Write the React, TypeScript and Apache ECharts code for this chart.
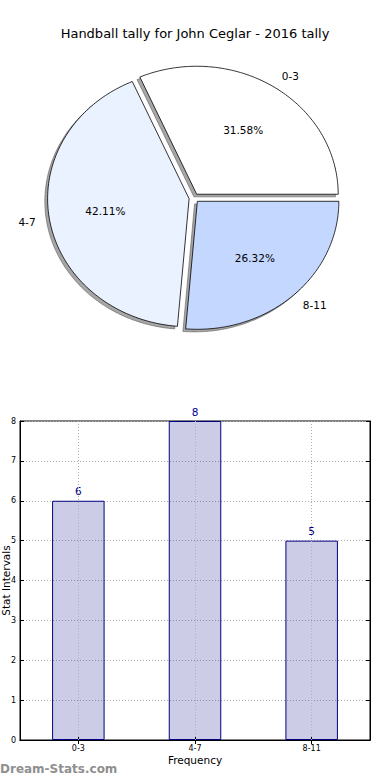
import React, { useEffect, useRef } from "react";
import * as echarts from "echarts";

const titleText = "Handball tally for John Ceglar - 2016 tally";
const pieLabels = ["0-3", "4-7", "8-11"];
const pieValues = [6, 8, 5];
const pieColors = ["#ffffff", "#eaf1ff", "#c4d8ff"];
const barCategories = ["0-3", "4-7", "8-11"];
const barValues = [6, 8, 5];
const yMin = 0;
const yMax = 8;
const yStep = 1;

const FONT = "DejaVu Sans";
const PIE_CX = 194;
const PIE_CY = 198;
const RX = 141.5;
const RY = 128;
const EXPLODE = 0.035;

const total = pieValues.reduce((a, b) => a + b, 0);
const startFracs = pieValues.map((_, i) =>
  pieValues.slice(0, i).reduce((a, b) => a + b, 0) / total
);

function wedgeGeom(i: number, value: number) {
  const a1 = startFracs[i] * Math.PI * 2;
  const a2 = a1 + (value / total) * Math.PI * 2;
  const mid = (a1 + a2) / 2;
  const ex = PIE_CX + EXPLODE * RX * Math.cos(mid);
  const ey = PIE_CY - EXPLODE * RY * Math.sin(mid);
  const pts: number[][] = [[ex, ey]];
  const steps = 120;
  for (let k = 0; k <= steps; k++) {
    const t = a1 + ((a2 - a1) * k) / steps;
    pts.push([ex + RX * Math.cos(t), ey - RY * Math.sin(t)]);
  }
  return { pts, mid, ex, ey };
}

export default function App() {
  const ref = useRef<HTMLDivElement>(null);
  useEffect(() => {
    if (!ref.current) return;
    const chart = echarts.init(ref.current, undefined, { renderer: "svg" });
    const pieData = pieValues.map((v, i) => [v, i]);
    const option: any = {
      animation: false,
      backgroundColor: "#ffffff",
      textStyle: { fontFamily: FONT },
      title: {
        text: titleText,
        left: "center",
        top: 22,
        textStyle: { fontFamily: FONT, fontSize: 13, fontWeight: "normal", color: "#000" },
      },
      grid: {
        left: 20,
        right: 20,
        top: 421,
        bottom: 40,
        containLabel: false,
        outerBoundsMode: "none",
        show: true,
        borderColor: "#000",
        borderWidth: 1,
        backgroundColor: "transparent",
      },
      xAxis: [
        {
          type: "category",
          data: barCategories,
          boundaryGap: true,
          position: "bottom",
          axisLine: { show: true, lineStyle: { color: "#000", width: 1 } },
          axisTick: { show: true, inside: true, alignWithLabel: true, length: 4, lineStyle: { color: "#000" } },
          axisLabel: { fontSize: 8, color: "#000", margin: 4, fontFamily: FONT },
          splitLine: { show: false },
          name: "Frequency",
          nameLocation: "middle",
          nameGap: 14,
          nameMoveOverlap: false,
          nameTextStyle: { fontSize: 10.5, color: "#000", fontFamily: FONT },
        },
        {
          type: "category",
          data: barCategories,
          boundaryGap: true,
          position: "top",
          axisLine: { show: true, lineStyle: { color: "#000", width: 1 } },
          axisTick: { show: true, inside: true, alignWithLabel: true, length: 4, lineStyle: { color: "#000" } },
          axisLabel: { show: false },
          splitLine: { show: false },
        },
      ],
      yAxis: [
        {
          type: "value",
          min: yMin,
          max: yMax,
          interval: yStep,
          position: "left",
          axisLine: { show: true, lineStyle: { color: "#000", width: 1 } },
          axisTick: { show: true, inside: true, length: 4, lineStyle: { color: "#000" } },
          axisLabel: { fontSize: 8, color: "#000", margin: 4, fontFamily: FONT },
          splitLine: { show: true, lineStyle: { type: [1, 2], color: "#b0b0b0", width: 1 } },
          name: "Stat Intervals",
          nameLocation: "middle",
          nameGap: 9,
          nameMoveOverlap: false,
          nameTextStyle: { fontSize: 10.5, color: "#000", fontFamily: FONT },
        },
        {
          type: "value",
          min: yMin,
          max: yMax,
          interval: yStep,
          position: "right",
          axisLine: { show: true, lineStyle: { color: "#000", width: 1 } },
          axisTick: { show: true, inside: true, length: 4, lineStyle: { color: "#000" } },
          axisLabel: { show: false },
          splitLine: { show: false },
        },
      ],
      series: [
        {
          type: "bar",
          xAxisIndex: 0,
          yAxisIndex: 0,
          data: barValues,
          barWidth: "45%",
          itemStyle: { color: "rgba(0,0,128,0.2)", borderColor: "#000080", borderWidth: 1 },
          label: {
            show: true,
            position: "top",
            distance: 4,
            color: "#00008b",
            fontSize: 10.5,
            fontFamily: FONT,
          },
          markLine: {
            silent: true,
            symbol: ["none", "none"],
            label: { show: false },
            lineStyle: { type: [1, 2], color: "#b0b0b0", width: 1 },
            data: barCategories.map((c) => ({ xAxis: c })),
          },
        },
        {
          type: "custom",
          coordinateSystem: "none",
          z: 1,
          silent: true,
          data: pieData,
          renderItem: (params: any, api: any) => {
            const i = params.dataIndex;
            const g = wedgeGeom(i, api.value(0));
            return {
              type: "polygon",
              x: -2.8,
              y: 2.6,
              shape: { points: g.pts },
              style: { fill: "rgba(77,77,77,0.5)", stroke: "rgba(77,77,77,0.5)", lineWidth: 1 },
            };
          },
        },
        {
          type: "custom",
          coordinateSystem: "none",
          z: 2,
          silent: true,
          data: pieData,
          renderItem: (params: any, api: any) => {
            const i = params.dataIndex;
            const v = api.value(0);
            const g = wedgeGeom(i, v);
            const c = Math.cos(g.mid);
            const s = Math.sin(g.mid);
            const lx = g.ex + 1.1 * RX * c;
            const ly = g.ey - 1.1 * RY * s;
            const px = g.ex + 0.6 * RX * c;
            const py = g.ey - 0.6 * RY * s;
            return {
              type: "group",
              children: [
                {
                  type: "polygon",
                  shape: { points: g.pts },
                  style: { fill: pieColors[i], stroke: "#000", lineWidth: 0.8 },
                },
                {
                  type: "text",
                  x: lx,
                  y: ly,
                  style: {
                    text: pieLabels[i],
                    fill: "#000",
                    fontSize: 10.5,
                    fontFamily: FONT,
                    align: c >= 0 ? "left" : "right",
                    verticalAlign: "middle",
                  },
                },
                {
                  type: "text",
                  x: px,
                  y: py,
                  style: {
                    text: ((v / total) * 100).toFixed(2) + "%",
                    fill: "#000",
                    fontSize: 10.5,
                    fontFamily: FONT,
                    align: "center",
                    verticalAlign: "middle",
                  },
                },
              ],
            };
          },
        },
      ],
      graphic: [
        {
          type: "text",
          left: 0,
          top: 763,
          style: {
            text: "Dream-Stats.com",
            fill: "#8f8f8f",
            fontSize: 12,
            fontWeight: "bold",
            fontFamily: FONT,
          },
        },
      ],
    };
    chart.setOption(option);
    return () => chart.dispose();
  }, []);
  return (
    <div
      ref={ref}
      style={{ position: "fixed", left: 0, top: 0, width: 390, height: 780 }}
    />
  );
}
